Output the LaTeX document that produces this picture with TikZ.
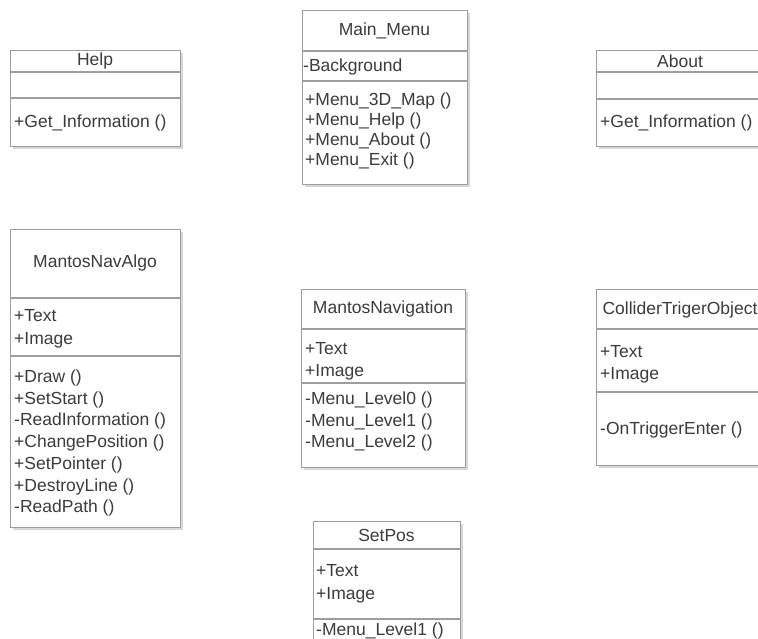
\documentclass[tikz,border=0pt]{standalone}
\usepackage{fontspec}
\setmainfont{Liberation Sans}
\usetikzlibrary{shadows}
\definecolor{linegray}{RGB}{158,158,158}
\definecolor{txtgray}{RGB}{60,60,60}
\definecolor{shadowgray}{RGB}{215,215,215}
\begin{document}
\begin{tikzpicture}[x=1pt,y=-1pt,
  umlbox/.style={draw=linegray, line width=1.1pt, fill=white, rectangle, inner sep=0pt,
    drop shadow={shadow xshift=2pt, shadow yshift=-2pt, fill=shadowgray, opacity=1}},
  sepline/.style={draw=linegray, line width=1.1pt},
  ttl/.style={font=\fontsize{17.5}{20}\selectfont, text=txtgray, inner sep=0pt, anchor=center},
  mem/.style={font=\fontsize{17.5}{20}\selectfont, text=txtgray, inner sep=0pt, anchor=west, text height=12.5pt, text depth=3.5pt}]
\useasboundingbox (0,0) rectangle (758,639);
\fill[white] (0,0) rectangle (758,639);

% Help
\node[umlbox, anchor=north west, minimum width=170pt, minimum height=96pt] (help) at (10,50) {};
\draw[sepline] (10,72) -- (180,72);
\draw[sepline] (10,98) -- (180,98);
\node[ttl] (helpT) at (95,61) {Help};
\node[mem] (helpM1) at (14,123) {+Get\_Information ()};

% Main_Menu
\node[umlbox, anchor=north west, minimum width=165pt, minimum height=174pt] (main) at (302,10) {};
\draw[sepline] (302,51) -- (467,51);
\draw[sepline] (302,81) -- (467,81);
\node[ttl] (mainT) at (384.5,31) {Main\_Menu};
\node[mem] (mainA1) at (303,67) {-Background};
\node[mem] (mainM1) at (305,101) {+Menu\_3D\_Map ()};
\node[mem] (mainM2) at (305,121) {+Menu\_Help ()};
\node[mem] (mainM3) at (305,141) {+Menu\_About ()};
\node[mem] (mainM4) at (305,161) {+Menu\_Exit ()};

% About
\node[umlbox, anchor=north west, minimum width=168pt, minimum height=96pt] (about) at (596,50) {};
\draw[sepline] (596,72) -- (764,72);
\draw[sepline] (596,99) -- (764,99);
\node[ttl] (aboutT) at (680,61) {About};
\node[mem] (aboutM1) at (600,123) {+Get\_Information ()};

% MantosNavAlgo
\node[umlbox, anchor=north west, minimum width=170pt, minimum height=298pt] (algo) at (10,229) {};
\draw[sepline] (10,298) -- (180,298);
\draw[sepline] (10,356) -- (180,356);
\node[ttl] (algoT) at (95,263) {MantosNavAlgo};
\node[mem] (algoA1) at (14,317) {+Text};
\node[mem] (algoA2) at (14,340) {+Image};
\node[mem] (algoM1) at (14,378) {+Draw ()};
\node[mem] (algoM2) at (14,399.7) {+SetStart ()};
\node[mem] (algoM3) at (14,421.4) {-ReadInformation ()};
\node[mem] (algoM4) at (14,443.1) {+ChangePosition ()};
\node[mem] (algoM5) at (14,464.8) {+SetPointer ()};
\node[mem] (algoM6) at (14,486.5) {+DestroyLine ()};
\node[mem] (algoM7) at (14,508.2) {-ReadPath ()};

% MantosNavigation
\node[umlbox, anchor=north west, minimum width=164pt, minimum height=178pt] (nav) at (301,289) {};
\draw[sepline] (301,329) -- (465,329);
\draw[sepline] (301,383) -- (465,383);
\node[ttl] (navT) at (383,309) {MantosNavigation};
\node[mem] (navA1) at (305,350) {+Text};
\node[mem] (navA2) at (305,372) {+Image};
\node[mem] (navM1) at (305,400) {-Menu\_Level0 ()};
\node[mem] (navM2) at (305,421.5) {-Menu\_Level1 ()};
\node[mem] (navM3) at (305,443) {-Menu\_Level2 ()};

% ColliderTrigerObject
\node[umlbox, anchor=north west, minimum width=168pt, minimum height=176pt] (coll) at (596,289) {};
\draw[sepline] (596,329) -- (764,329);
\draw[sepline] (596,392) -- (764,392);
\node[ttl] (collT) at (680,310) {ColliderTrigerObject};
\node[mem] (collA1) at (600,353) {+Text};
\node[mem] (collA2) at (600,375) {+Image};
\node[mem] (collM1) at (600,430) {-OnTriggerEnter ()};

% SetPos
\node[umlbox, anchor=north west, minimum width=147pt, minimum height=140pt] (setpos) at (313,521) {};
\draw[sepline] (313,549) -- (460,549);
\draw[sepline] (313,619) -- (460,619);
\node[ttl] (setposT) at (386.5,535) {SetPos};
\node[mem] (setposA1) at (316,572) {+Text};
\node[mem] (setposA2) at (316,595) {+Image};
\node[mem] (setposM1) at (316,631) {-Menu\_Level1 ()};
\end{tikzpicture}
\end{document}
